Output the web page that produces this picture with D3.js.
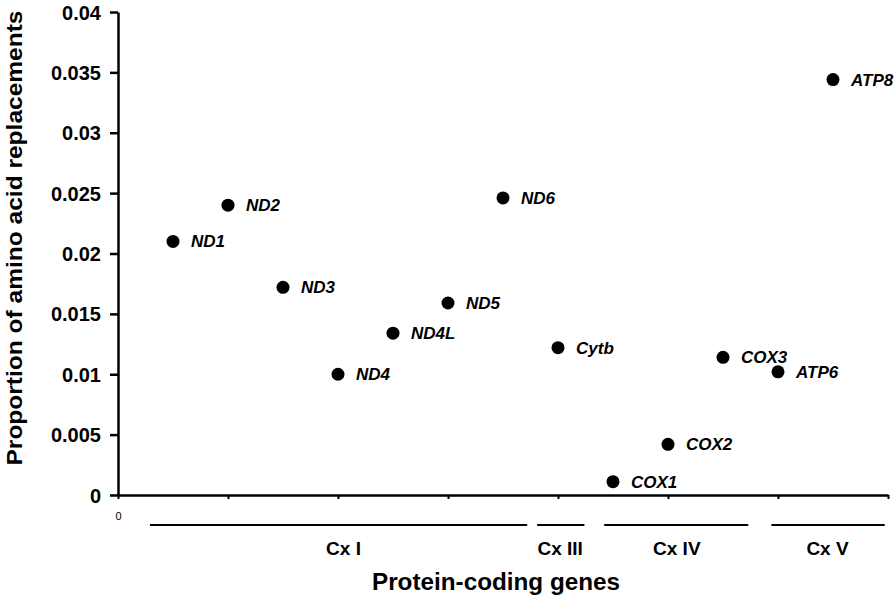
<!DOCTYPE html>
<html><head><meta charset="utf-8">
<script src="https://cdn.jsdelivr.net/npm/d3@7"></script>
<style>body{margin:0;background:#fff}svg{display:block}text{font-family:"Liberation Sans",Arial,sans-serif}</style>
</head><body><svg id="c" width="896" height="600"></svg>
<script>
const genes = ["ND1","ND2","ND3","ND4","ND4L","ND5","ND6","Cytb","COX1","COX2","COX3","ATP6","ATP8"];
const positions = [0.5,1,1.5,2,2.5,3,3.5,4,4.5,5,5.5,6,6.5];
const values = [0.0210,0.0240,0.0172,0.0100,0.0134,0.0159,0.0246,0.0122,0.0011,0.0042,0.0114,0.0102,0.0344];
const yTicks = [0,0.005,0.01,0.015,0.02,0.025,0.03,0.035,0.04];
const yTickLabels = ["0","0.005","0.01","0.015","0.02","0.025","0.03","0.035","0.04"];
const groupNames = ["Cx I","Cx III","Cx IV","Cx V"];
const groupStart = [0.29,3.81,4.42,5.94];
const groupEnd = [3.72,4.24,5.73,6.97];
const groupLabelPos = [2.05,4.02,5.08,6.45];

const svg = d3.select("#c");
const x = d3.scaleLinear().domain([0,7]).range([118,888]);
const y = d3.scaleLinear().domain([0,0.04]).range([495,12]);
const FF = '"Liberation Sans",Arial,sans-serif';

// y axis
const ya = svg.append("g").attr("transform","translate(118,0)")
  .call(d3.axisLeft(y).tickValues(yTicks).tickFormat((d,i)=>yTickLabels[i]).tickSize(8).tickPadding(9).tickSizeOuter(0));
ya.select(".domain").attr("stroke","#000").attr("stroke-width",2.5);
ya.selectAll(".tick line").attr("stroke","#000").attr("stroke-width",2.5);
ya.selectAll(".tick text").attr("font-size",20).attr("font-weight","bold").attr("fill","#000").attr("dy","0.35em")
  .style("font-family",FF);

// x axis
const xa = svg.append("g").attr("transform","translate(0,495)")
  .call(d3.axisBottom(x).tickValues(d3.range(0,8)).tickFormat(d=>d===0?"0":"").tickSize(4).tickSizeOuter(0).tickPadding(13));
xa.select(".domain").attr("stroke","#000").attr("stroke-width",2.5);
xa.selectAll(".tick line").attr("stroke","#000").attr("stroke-width",2);
xa.selectAll(".tick text").attr("font-size",11).attr("fill","#000").style("font-family",FF);

// points
const pts = genes.map((g,i)=>({g, xv:positions[i], v:values[i]}));
svg.append("g").selectAll("circle").data(pts).join("circle")
  .attr("cx",d=>x(d.xv)).attr("cy",d=>y(d.v)).attr("r",6.5).attr("fill","#000");
svg.append("g").selectAll("text").data(pts).join("text")
  .attr("x",d=>x(d.xv)+18).attr("y",d=>y(d.v)+6)
  .attr("font-size",17).attr("font-weight","bold").attr("font-style","italic").attr("fill","#000")
  .text(d=>d.g);

// group lines
const grp = groupNames.map((n,i)=>({n,s:groupStart[i],e:groupEnd[i],l:groupLabelPos[i]}));
svg.append("g").selectAll("line").data(grp).join("line")
  .attr("x1",d=>x(d.s)).attr("x2",d=>x(d.e)).attr("y1",525).attr("y2",525)
  .attr("stroke","#000").attr("stroke-width",2);
svg.append("g").selectAll("text").data(grp).join("text")
  .attr("x",d=>x(d.l)).attr("y",555).attr("text-anchor","middle")
  .attr("font-size",19).attr("font-weight","bold").attr("fill","#000").text(d=>d.n);

// titles
svg.append("text").attr("x",496).attr("y",590).attr("text-anchor","middle")
  .attr("font-size",23).attr("font-weight","bold").attr("fill","#000")
  .attr("textLength",248).attr("lengthAdjust","spacingAndGlyphs").text("Protein-coding genes");
svg.append("text").attr("transform","translate(22,238) rotate(-90)").attr("text-anchor","middle")
  .attr("font-size",22).attr("font-weight","bold").attr("fill","#000")
  .attr("textLength",455).attr("lengthAdjust","spacingAndGlyphs").text("Proportion of amino acid replacements");
</script></body></html>
